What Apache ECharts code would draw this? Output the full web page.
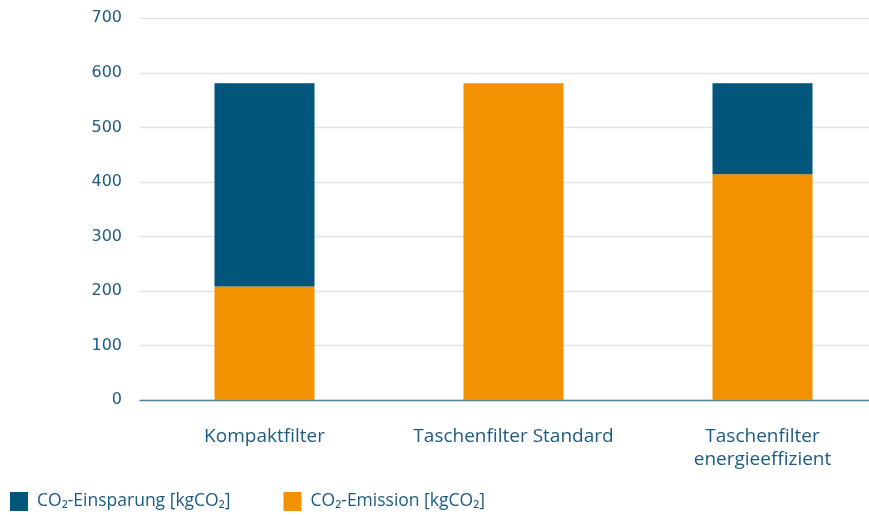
<!DOCTYPE html>
<html>
<head>
<meta charset="utf-8">
<script src="https://cdn.jsdelivr.net/npm/echarts@6/dist/echarts.min.js"></script>
<style>
  html, body { margin: 0; padding: 0; background: #ffffff; overflow: hidden; }
  /* the plot runs past the right edge of the page, so the canvas is wider than the window */
  #chart { width: 890px; height: 515px; }
</style>
</head>
<body>
<div id="chart"></div>
<script>
// Filter types compared
const categories = ['Kompaktfilter', 'Taschenfilter Standard', 'Taschenfilter\nenergieeffizient'];
// CO2 emitted per filter type [kgCO2]
const emission = [208, 581, 414];
// CO2 saved per filter type [kgCO2]
const einsparung = [373, 0, 167];
// Value axis ticks
const yTicks = [0, 100, 200, 300, 400, 500, 600, 700];

const nameEinsparung = 'CO₂-Einsparung [kgCO₂]';
const nameEmission = 'CO₂-Emission [kgCO₂]';

const textColor = '#1d5b80';
const blue = '#02567c';
const orange = '#f39200';

const chart = echarts.init(document.getElementById('chart'), null, { renderer: 'canvas' });
chart.setOption({
  animation: false,
  grid: { left: 140, top: 18.3, width: 747, height: 381.7, containLabel: false },
  legend: {
    left: 5,
    top: 487,
    itemWidth: 18,
    itemHeight: 19,
    itemGap: 53,
    icon: 'rect',
    data: [nameEinsparung, nameEmission],
    textStyle: { color: textColor, fontFamily: 'Open Sans', fontSize: 17.5, padding: [0, 0, 0, 4] }
  },
  xAxis: {
    type: 'category',
    data: categories,
    axisLine: { lineStyle: { color: '#4a87ab', width: 1.3 } },
    axisTick: { show: false },
    axisLabel: {
      interval: 0,
      color: textColor,
      fontFamily: 'Open Sans',
      fontSize: 19,
      lineHeight: 23,
      margin: 25
    }
  },
  yAxis: {
    type: 'value',
    min: yTicks[0],
    max: yTicks[yTicks.length - 1],
    interval: 100,
    axisLine: { show: false },
    axisTick: { show: false },
    splitLine: { lineStyle: { color: '#e3e3e3', width: 1.3 } },
    axisLabel: {
      color: textColor,
      fontFamily: 'DejaVu Sans',
      fontSize: 16,
      margin: 18
    }
  },
  series: [
    {
      name: nameEmission,
      type: 'bar',
      stack: 'co2',
      data: emission,
      barWidth: 100,
      itemStyle: { color: orange }
    },
    {
      name: nameEinsparung,
      type: 'bar',
      stack: 'co2',
      data: einsparung,
      barWidth: 100,
      itemStyle: { color: blue }
    }
  ]
});
</script>
</body>
</html>
